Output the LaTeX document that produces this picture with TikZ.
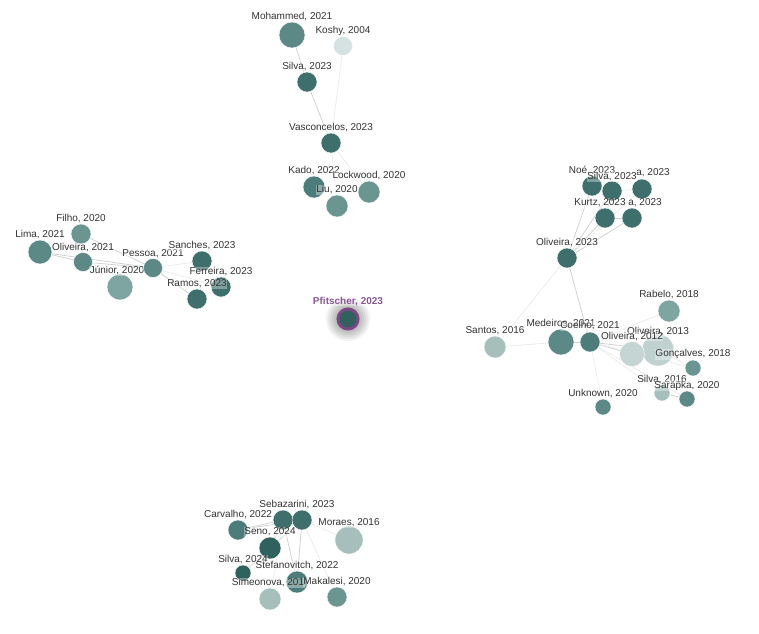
\documentclass[tikz,border=0pt]{standalone}
\usepackage{fontspec}
\setmainfont{Liberation Sans}
\usetikzlibrary{backgrounds}

\definecolor{dkteal}{HTML}{3E6F6C}
\definecolor{dpteal}{HTML}{2F615E}
\definecolor{mkteal}{HTML}{4D7D7A}
\definecolor{mdteal}{HTML}{5C8985}
\definecolor{mteal}{HTML}{6B9591}
\definecolor{ltteal}{HTML}{7EA5A1}
\definecolor{plteal}{HTML}{A6BFBD}
\definecolor{vpteal}{HTML}{C4D5D3}
\definecolor{xpteal}{HTML}{D6E2E1}
\definecolor{focus}{HTML}{7C4784}
\definecolor{focustxt}{HTML}{8A5A96}
\definecolor{txt}{HTML}{333333}

\begin{document}
\begin{tikzpicture}[
    x=1pt, y=-1pt,
    paper/.style={circle, inner sep=0pt, draw=white, line width=0.4pt},
    lbl/.style={font=\fontsize{10}{11}\selectfont, text=txt, inner sep=0.5pt,
                fill=white, fill opacity=0.35, text opacity=1},
    link/.style={draw=black!19, line width=0.7pt},
    faint/.style={draw=black!9, line width=0.6pt},
    label distance=0pt
  ]
  \useasboundingbox (0,0) rectangle (759,633);

  % top cluster
  \node[paper, fill=mdteal, minimum size=26pt,
        label={[lbl]above:{Mohammed, 2021}}] (moh) at (292,35) {};
  \node[paper, fill=xpteal, minimum size=19pt,
        label={[lbl]above:{Koshy, 2004}}] (kos) at (343,46) {};
  \node[paper, fill=dkteal, minimum size=20pt,
        label={[lbl]above:{Silva, 2023}}] (silA) at (307,82) {};
  \node[paper, fill=dkteal, minimum size=20pt,
        label={[lbl]above:{Vasconcelos, 2023}}] (vas) at (331,143) {};

  \node[paper, fill=mkteal, minimum size=22pt,
        label={[lbl]above:{Kado, 2022}}] (kado) at (314,187) {};
  \node[paper, fill=mteal, minimum size=22pt,
        label={[lbl]above:{Lockwood, 2020}}] (lock) at (369,192) {};
  \node[paper, fill=mteal, minimum size=22pt,
        label={[lbl]above:{Liu, 2020}}] (liu) at (337,206) {};

  % left cluster
  \node[paper, fill=mteal, minimum size=20pt,
        label={[lbl]above:{Filho, 2020}}] (filho) at (81,234) {};
  \node[paper, fill=mdteal, minimum size=24pt,
        label={[lbl]above:{Lima, 2021}}] (lima) at (40,252) {};
  \node[paper, fill=mdteal, minimum size=19pt,
        label={[lbl]above:{Oliveira, 2021}}] (oliA) at (83,262) {};
  \node[paper, fill=ltteal, minimum size=26pt,
        label={[lbl, xshift=-3pt, yshift=-2pt]above:{Júnior, 2020}}] (jun) at (120,287) {};
  \node[paper, fill=mdteal, minimum size=19pt,
        label={[lbl]above:{Pessoa, 2021}}] (pes) at (153,268) {};
  \node[paper, fill=dkteal, minimum size=20pt,
        label={[lbl]above:{Sanches, 2023}}] (san) at (202,261) {};
  \node[paper, fill=dkteal, minimum size=20pt,
        label={[lbl]above:{Ferreira, 2023}}] (fer) at (221,287) {};
  \node[paper, fill=dkteal, minimum size=20pt,
        label={[lbl]above:{Ramos, 2023}}] (ram) at (197,299) {};

  % focus paper
  \node[circle, inner sep=0pt, minimum size=20pt, fill=dpteal,
        draw=focus, line width=3pt,
        label={[lbl, text=focustxt, font=\fontsize{10}{11}\selectfont\bfseries,
                label distance=1pt]above:{Pfitscher, 2023}}] (pfi) at (348,319) {};

  % right cluster
  \node[paper, fill=dkteal, minimum size=20pt,
        label={[lbl]above:{Noé, 2023}}] (noe) at (592,186) {};
  \node[paper, fill=dkteal, minimum size=20pt,
        label={[lbl, xshift=11pt, yshift=1pt]above:{a, 2023}}] (xa) at (642,189) {};
  \node[paper, fill=dkteal, minimum size=20pt,
        label={[lbl, yshift=-1pt]above:{Silva, 2023}}] (silB) at (612,191) {};
  \node[paper, fill=dkteal, minimum size=20pt,
        label={[lbl, xshift=13pt]above:{a, 2023}}] (xb) at (632,218) {};
  \node[paper, fill=dkteal, minimum size=20pt,
        label={[lbl, xshift=-5pt]above:{Kurtz, 2023}}] (kurtz) at (605,218) {};
  \node[paper, fill=dkteal, minimum size=20pt,
        label={[lbl]above:{Oliveira, 2023}}] (oliB) at (567,258) {};

  \node[paper, fill=ltteal, minimum size=22pt,
        label={[lbl]above:{Rabelo, 2018}}] (rab) at (669,311) {};
  \node[paper, fill=plteal, minimum size=22pt,
        label={[lbl]above:{Santos, 2016}}] (santos) at (495,347) {};
  \node[paper, fill=mdteal, minimum size=26pt,
        label={[lbl]above:{Medeiros, 2021}}] (med) at (561,342) {};
  \node[paper, fill=mkteal, minimum size=20pt,
        label={[lbl, yshift=1pt]above:{Coelho, 2021}}] (coe) at (590,342) {};
  \node[paper, fill=vpteal!85!plteal, minimum size=32pt,
        label={[lbl, yshift=-3pt]above:{Oliveira, 2013}}] (ol13) at (658,350) {};
  \node[paper, fill=vpteal, minimum size=25pt,
        label={[lbl]above:{Oliveira, 2012}}] (ol12) at (632,354) {};
  \node[paper, fill=mteal, minimum size=16pt,
        label={[lbl]above:{Gonçalves, 2018}}] (gon) at (693,368) {};
  \node[paper, fill=plteal, minimum size=16pt,
        label={[lbl]above:{Silva, 2016}}] (sil16) at (662,393) {};
  \node[paper, fill=mdteal, minimum size=16pt,
        label={[lbl]above:{Sarapka, 2020}}] (sar) at (687,399) {};
  \node[paper, fill=mdteal, minimum size=16pt,
        label={[lbl]above:{Unknown, 2020}}] (unk) at (603,407) {};

  % bottom cluster
  \node[paper, fill=mkteal, minimum size=20pt,
        label={[lbl]above:{Carvalho, 2022}}] (carv) at (238,530) {};
  \node[paper, fill=dkteal, minimum size=20pt] (sebA) at (283,520) {};
  \node[paper, fill=dkteal, minimum size=20pt,
        label={[lbl, xshift=-5pt]above:{Sebazarini, 2023}}] (sebB) at (302,520) {};
  \node[paper, fill=plteal, minimum size=28pt,
        label={[lbl, yshift=-2pt]above:{Moraes, 2016}}] (mor) at (349,540) {};
  \node[paper, fill=dpteal, minimum size=22pt,
        label={[lbl]above:{Seno, 2024}}] (seno) at (270,548) {};
  \node[paper, fill=dpteal, minimum size=16pt,
        label={[lbl]above:{Silva, 2024}}] (sil24) at (243,573) {};
  \node[paper, fill=plteal, minimum size=22pt] (sim) at (270,599) {};
  \node[paper, fill=mkteal, minimum size=22pt,
        label={[lbl]above:{Stefanovitch, 2022}}] (stef) at (297,582) {};
  \node[lbl, anchor=south] (simlbl) at ([xshift=-2pt]sim.north) {Simeonova, 201};
  \node[paper, fill=mteal, minimum size=20pt,
        label={[lbl]above:{Makalesi, 2020}}] (mak) at (337,597) {};

  \begin{scope}[on background layer]
    \fill[white] (0,0) rectangle (759,633);
    % glow round the focus paper
    \foreach \rad in {22,20,...,10}
      \fill[black, opacity=0.05] (pfi.center) circle (\rad pt);
    % top
    \draw[link] (moh) -- (silA) -- (vas);
    \draw[faint] (kos) -- (vas);
    \draw[faint] (vas) -- (liu);
    \draw[faint] (vas) -- (lock);
    % left
    \draw[link] (lima) -- (oliA);
    \draw[link] (lima) -- (pes);
    \draw[link] (filho) -- (oliA);
    \draw[link] (filho) -- (pes);
    \draw[link] (oliA) -- (pes);
    \draw[link] (pes) -- (ram);
    \draw[faint] (pes) -- (san);
    \draw[faint] (pes) -- (fer);
    \draw[faint] (ram) -- (fer);
    % right
    \draw[link] (oliB) -- (noe);
    \draw[link] (oliB) -- (silB);
    \draw[link] (oliB) -- (kurtz);
    \draw[link] (oliB) -- (xb);
    \draw[faint] (oliB) -- (xa);
    \draw[link] (noe) -- (silB);
    \draw[link] (kurtz) -- (silB);
    \draw[link] (kurtz) -- (xb);
    \draw[faint] (silB) -- (xa);
    \draw[faint] (oliB) -- (santos);
    \draw[link] (oliB) -- (coe);
    \draw[faint] (santos) -- (med);
    \draw[link] (med) -- (coe);
    \draw[link] (coe) -- (ol12);
    \draw[link] (coe) -- (ol13);
    \draw[faint] (coe) -- (gon);
    \draw[faint] (coe) -- (sil16);
    \draw[faint] (coe) -- (sar);
    \draw[faint] (coe) -- (unk);
    \draw[faint] (coe) -- (rab);
    \draw[link] (ol12) -- (ol13);
    \draw[faint] (ol13) -- (gon);
    \draw[link] (sil16) -- (sar);
    % bottom
    \draw[link] (carv) -- (sebA);
    \draw[link] (carv) -- (sebB);
    \draw[link] (seno) -- (sebA);
    \draw[link] (seno) -- (sebB);
    \draw[link] (sebA) -- (sebB);
    \draw[link] (sil24) -- (seno);
    \draw[faint] (sil24) -- (sebB);
    \draw[link] (stef) -- (sebA);
    \draw[link] (stef) -- (sebB);
    \draw[faint] (sim) -- (sebA);
    \draw[faint] (mak) -- (sebB);
    \draw[faint] (mor) -- (sebB);
  \end{scope}
\end{tikzpicture}
\end{document}
